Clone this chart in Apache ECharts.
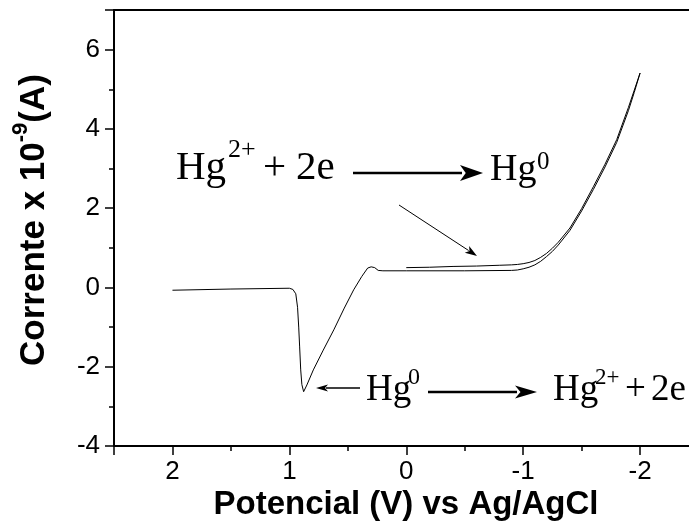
<!DOCTYPE html>
<html>
<head>
<meta charset="utf-8">
<script src="https://cdn.jsdelivr.net/npm/echarts@6/dist/echarts.min.js"></script>
<style>
  html, body { margin: 0; padding: 0; background: #ffffff; }
  #chart { width: 689px; height: 529px; }
</style>
</head>
<body>
<div id="chart"></div>
<script>
// Cathodic sweep, 0 V -> -2 V (Hg2+ reduction / deposition)
const sweepOutPotential = [0.0, -0.2, -0.4, -0.6, -0.8, -0.9, -0.95, -1.0, -1.05, -1.1, -1.15, -1.2, -1.25, -1.3, -1.4, -1.5, -1.6, -1.7, -1.8, -1.9, -2.0];
const sweepOutCurrent   = [0.50, 0.51, 0.53, 0.54, 0.56, 0.57, 0.58, 0.60, 0.63, 0.68, 0.76, 0.86, 0.99, 1.14, 1.50, 1.99, 2.54, 3.11, 3.73, 4.54, 5.41];

// Return sweep, -2 V -> +2 V (Hg0 stripping peak near +0.88 V)
const sweepBackPotential = [-2.0, -1.95, -1.9, -1.8, -1.7, -1.6, -1.5, -1.4, -1.3, -1.25, -1.2, -1.15, -1.1, -1.05, -1.0, -0.95, -0.9, -0.5, 0.0, 0.2, 0.24, 0.27, 0.30, 0.33, 0.38, 0.45, 0.53, 0.62, 0.71, 0.795, 0.85, 0.878, 0.893, 0.903, 0.912, 0.92, 0.93, 0.945, 0.97, 1.0, 1.5, 2.0];
const sweepBackCurrent   = [5.41, 4.92, 4.46, 3.66, 3.04, 2.47, 1.93, 1.44, 1.07, 0.91, 0.78, 0.66, 0.57, 0.51, 0.47, 0.44, 0.43, 0.42, 0.42, 0.42, 0.43, 0.50, 0.52, 0.49, 0.28, -0.06, -0.52, -1.07, -1.58, -2.08, -2.46, -2.63, -2.45, -2.08, -1.50, -1.00, -0.50, -0.16, -0.05, -0.02, -0.04, -0.07];

// Axis ranges and tick steps
const potentialRange = [-3, 2.5];
const currentRange = [-4, 7];
const potentialStep = 1;
const currentStep = 2;

const toPairs = (xs, ys) => xs.map((x, i) => [x, ys[i]]);
const voltammogram = toPairs(sweepOutPotential, sweepOutCurrent)
  .concat(toPairs(sweepBackPotential, sweepBackCurrent).slice(1));

const sansFont = '"Liberation Sans", Arial, sans-serif';
const serifFont = '"Liberation Serif", "Times New Roman", serif';

// Reaction labels drawn in serif type with superscripts
function word(text, x, baseline, size) {
  return {
    type: 'text', silent: true,
    style: {
      text: text, x: x, y: baseline - 0.32 * size,
      font: size + 'px ' + serifFont, fill: '#000',
      align: 'left', verticalAlign: 'middle'
    }
  };
}
function arrow(x1, y1, x2, y2, width, headLen, headHalf) {
  const dx = x2 - x1, dy = y2 - y1;
  const len = Math.sqrt(dx * dx + dy * dy);
  const ux = dx / len, uy = dy / len;
  const bx = x2 - ux * headLen, by = y2 - uy * headLen;
  return [
    { type: 'line', silent: true,
      shape: { x1: x1, y1: y1, x2: bx + ux * 2, y2: by + uy * 2 },
      style: { stroke: '#000', lineWidth: width } },
    { type: 'polygon', silent: true,
      shape: { points: [[x2, y2], [bx - uy * headHalf, by + ux * headHalf], [bx + ux * headLen * 0.25, by + uy * headLen * 0.25], [bx + uy * headHalf, by - ux * headHalf]] },
      style: { fill: '#000' } }
  ];
}

const annotations = [
  word('Hg', 176, 181, 41),
  word('2+', 228, 158, 26),
  word('+', 263, 181, 41),
  word('2e', 296, 181, 41),
  ...arrow(353, 173, 483, 173, 2.5, 23, 8),
  word('Hg', 490, 182, 38),
  word('0', 537, 170, 25),
  ...arrow(399, 205, 477, 256, 1, 12, 4),

  ...arrow(360, 388, 316, 388, 1.5, 12, 3.5),
  word('Hg', 366, 402, 37),
  word('0', 408, 385, 24),
  ...arrow(428, 392, 537, 392, 2.5, 22, 6.5),
  word('Hg', 553, 402, 37),
  word('2+', 595, 385, 23),
  word('+', 625, 402, 37),
  word('2e', 651, 402, 37),

  // horizontal axis title
  {
    type: 'text', silent: true,
    style: {
      text: 'Potencial (V) vs Ag/AgCl', x: 406, y: 505,
      font: 'bold 33px ' + sansFont, fill: '#000',
      align: 'center', verticalAlign: 'middle'
    }
  }
];

const chart = echarts.init(document.getElementById('chart'), null, { renderer: 'canvas' });

const axisLineStyle = { color: '#000', width: 2 };
const tickStyle = { color: '#000', width: 1.5 };

chart.setOption({
  animation: false,
  backgroundColor: '#ffffff',
  grid: { left: 114, top: 10, width: 643, bottom: 83, containLabel: false, outerBoundsMode: 'none' },
  xAxis: [
    {
      type: 'value', position: 'bottom', inverse: true,
      min: potentialRange[0], max: potentialRange[1], interval: potentialStep,
      axisLine: { show: true, onZero: false, lineStyle: axisLineStyle },
      axisTick: { show: true, inside: false, length: 9, lineStyle: tickStyle },
      minorTick: { show: true, splitNumber: 2, length: 5, lineStyle: tickStyle },
      splitLine: { show: false },
      axisLabel: { show: true, margin: 13, showMaxLabel: false, color: '#000', fontSize: 26, fontFamily: sansFont }
    },
    {
      type: 'value', position: 'top', inverse: true,
      min: potentialRange[0], max: potentialRange[1], interval: potentialStep,
      axisLine: { show: true, onZero: false, lineStyle: axisLineStyle },
      axisTick: { show: false }, axisLabel: { show: false }, splitLine: { show: false }
    }
  ],
  yAxis: {
    type: 'value', position: 'left',
    min: currentRange[0], max: currentRange[1], interval: currentStep,
    axisLine: { show: true, onZero: false, lineStyle: axisLineStyle },
    axisTick: { show: true, inside: false, length: 9, lineStyle: tickStyle },
    minorTick: { show: true, splitNumber: 2, length: 5, lineStyle: tickStyle },
    splitLine: { show: false },
    axisLabel: { show: true, margin: 14, showMaxLabel: false, color: '#000', fontSize: 26, fontFamily: sansFont },
    name: '{b|Corrente x 10}{s|-9}{b|(A)}', nameLocation: 'middle', nameGap: 62, nameRotate: 90,
    nameTextStyle: {
      color: '#000', fontFamily: sansFont, padding: [0, 0, 0, 16],
      rich: {
        b: { fontSize: 35, fontWeight: 'bold', fontFamily: sansFont, color: '#000', lineHeight: 42, verticalAlign: 'bottom' },
        s: { fontSize: 22, fontWeight: 'bold', fontFamily: sansFont, color: '#000', lineHeight: 42, verticalAlign: 'top' }
      }
    }
  },
  series: [{
    type: 'line', xAxisIndex: 0, yAxisIndex: 0,
    data: voltammogram, showSymbol: false, smooth: false,
    lineStyle: { color: '#000', width: 1 }
  }],
  graphic: annotations
});
</script>
</body>
</html>
